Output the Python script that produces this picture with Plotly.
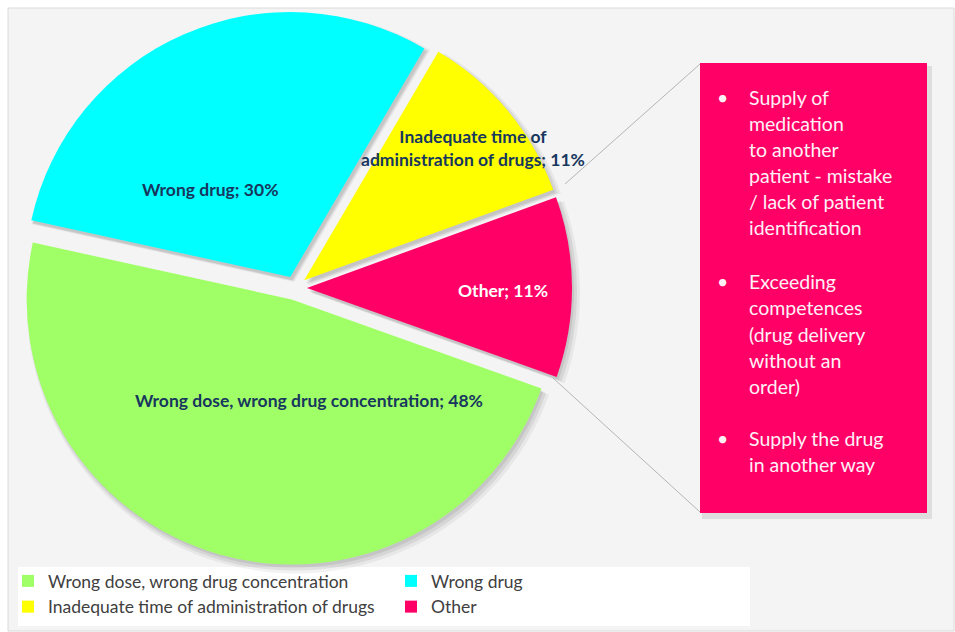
import plotly.graph_objects as go

W, H = 955, 632

# ---- data ----
categories = ["Wrong dose, wrong drug concentration", "Wrong drug",
              "Inadequate time of administration of drugs", "Other"]
values = [48, 30, 11, 11]
slice_labels = ["Wrong dose, wrong drug concentration", "Wrong drug",
                "Inadequate time of<br>administration of drugs", "Other"]
colors = ["#A0FF66", "#00FFFF", "#FFFF00", "#FF0066"]
label_colors = ["#17375E", "#17375E", "#17375E", "#FFFFFF"]
other_items = [
    ["Supply of", "medication", "to another", "patient - mistake",
     "/ lack of patient", "identification"],
    ["Exceeding", "competences", "(drug delivery", "without an", "order)"],
    ["Supply the drug", "in another way"],
]

def X(px):
    return px / W

def Y(py):
    return 1 - py / H

# pie geometry (pixels)
cx, cy, R = 295, 288, 277
pull = 0.045
rotation = 109.6

def dom(dx=0, dy=0, dr=0):
    return dict(x=[X(cx - R - dr + dx), X(cx + R + dr + dx)],
                y=[Y(cy + R + dr + dy), Y(cy - R - dr + dy)])

fig = go.Figure()

# soft shadow layers
for dx, dy, dr, a in [(4, 5, 4, 0.05), (3, 4, 2, 0.07), (2, 3, 0, 0.08)]:
    fig.add_trace(go.Pie(
        labels=["s" + c for c in categories], values=values, sort=False,
        direction="clockwise", rotation=rotation, pull=pull,
        marker=dict(colors=["rgba(0,0,0,%s)" % a] * 4, line=dict(width=0)),
        textinfo="none", hoverinfo="skip", showlegend=False,
        domain=dom(dx, dy, dr)))

fig.add_trace(go.Pie(
    labels=categories, values=values, sort=False,
    direction="clockwise", rotation=rotation, pull=pull,
    marker=dict(colors=colors, line=dict(width=0)),
    textinfo="none", hovertemplate="%{label}: %{value}%<extra></extra>",
    domain=dom()))

# ---- layout shapes ----
shapes = [
    dict(type="rect", xref="paper", yref="paper", x0=X(8), x1=X(954), y0=Y(631), y1=Y(8),
         fillcolor="#F4F4F4", line=dict(color="#DADADA", width=1), layer="below"),
    # legend panel
    dict(type="rect", xref="paper", yref="paper", x0=X(18), x1=X(750), y0=Y(626), y1=Y(567),
         fillcolor="#FFFFFF", line=dict(width=0), layer="below"),
    # callout box shadow
    dict(type="rect", xref="paper", yref="paper", x0=X(702), x1=X(932), y0=Y(519), y1=Y(66),
         fillcolor="rgba(0,0,0,0.09)", line=dict(width=0), layer="below"),
    dict(type="rect", xref="paper", yref="paper", x0=X(700), x1=X(927), y0=Y(513), y1=Y(63),
         fillcolor="#FF0066", line=dict(width=0), layer="above"),
    # connector lines
    dict(type="line", xref="paper", yref="paper", x0=X(565), y0=Y(184), x1=X(700), y1=Y(64),
         line=dict(color="#B5B5B5", width=1)),
    dict(type="line", xref="paper", yref="paper", x0=X(553), y0=Y(378), x1=X(700), y1=Y(512),
         line=dict(color="#B5B5B5", width=1)),
]

annotations = []
label_pos = [(309, 400), (210, 189), (473, 148), (503, 290)]
for lab, v, col, (px, py) in zip(slice_labels, values, label_colors, label_pos):
    annotations.append(dict(
        x=X(px), y=Y(py), xref="paper", yref="paper", showarrow=False,
        xanchor="center", yanchor="middle",
        text="<b>%s; %d%%</b>" % (lab, v), align="center",
        font=dict(family="Lato", size=17.5, color=col)))

# callout text
line_h = 26
starts = [98, 282, 438]
box_font = dict(family="Lato", size=19.5, color="#FFF0F6")
for items, y0 in zip(other_items, starts):
    annotations.append(dict(x=X(722), y=Y(y0), xref="paper", yref="paper", showarrow=False,
                            text="•", xanchor="center", yanchor="middle", font=box_font))
    for i, t in enumerate(items):
        annotations.append(dict(x=X(747), y=Y(y0 + i * line_h), xref="paper", yref="paper",
                                showarrow=False, text=t, xanchor="left", yanchor="middle",
                                font=box_font))

fig.update_layout(
    width=W, height=H,
    margin=dict(l=0, r=0, t=0, b=0),
    paper_bgcolor="#FFFFFF",
    plot_bgcolor="#FFFFFF",
    shapes=shapes,
    annotations=annotations,
    legend=dict(orientation="h", x=X(8), y=Y(563), xanchor="left", yanchor="top",
                entrywidth=338, entrywidthmode="pixels",
                bgcolor="rgba(0,0,0,0)", font=dict(family="Lato", size=17.5, color="#404040"),
                traceorder="normal"),
)

fig.write_html("out.html", config={"displayModeBar": False},
               post_script="document.body.style.margin='0';")
